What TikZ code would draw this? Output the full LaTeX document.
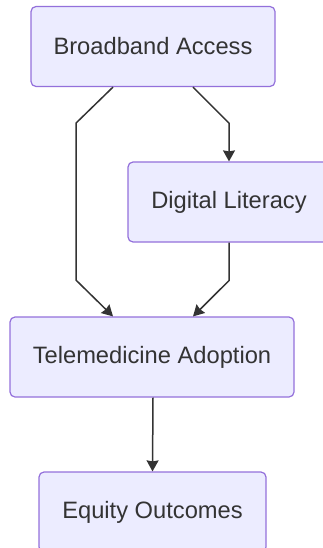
\documentclass[tikz,border=0pt]{standalone}
\usepackage{fontspec}
\setmainfont{Liberation Sans}
\usepackage{tikz}
\usetikzlibrary{arrows.meta, positioning}

\definecolor{boxfill}{HTML}{ECECFF}
\definecolor{boxline}{HTML}{9370DB}
\definecolor{linkcol}{HTML}{333333}

\begin{document}
\begin{tikzpicture}[
      x=1pt, y=1pt,
      factor/.style={draw=boxline, line width=1.2pt, rounded corners=5pt, fill=boxfill, text=linkcol, minimum height=80pt},
      arrow/.style={-{Stealth[length=11pt, width=12pt, inset=1pt]}, draw=linkcol, line width=1.5pt},
      every node/.style={font=\fontsize{23.7}{28}\selectfont}
    ]
    \useasboundingbox (0,0) rectangle (322,-548);

    % Nodes
    \node[factor, minimum width=244pt] (broadband) at (153, -46.5) {Broadband Access};
    \node[factor, minimum width=202pt] (literacy) at (229, -202) {Digital Literacy};
    \node[factor, minimum width=284pt] (telemed) at (152, -357) {Telemedicine Adoption};
    \node[factor, minimum width=227pt] (equity) at (152.5, -512) {Equity Outcomes};

    % Arrows
    \draw[arrow] ([xshift=-40pt]broadband.south) -- ++(-37,-36) -- ++(0,-157) -- ([xshift=-39pt]telemed.north);
    \draw[arrow] ([xshift=40pt]broadband.south) -- ++(36,-36) -- (literacy.north);
    \draw[arrow] (literacy.south) -- ++(0,-38) -- ([xshift=41pt]telemed.north);
    \draw[arrow] ([xshift=1pt]telemed.south) -- (equity.north);

    \end{tikzpicture}
\end{document}
